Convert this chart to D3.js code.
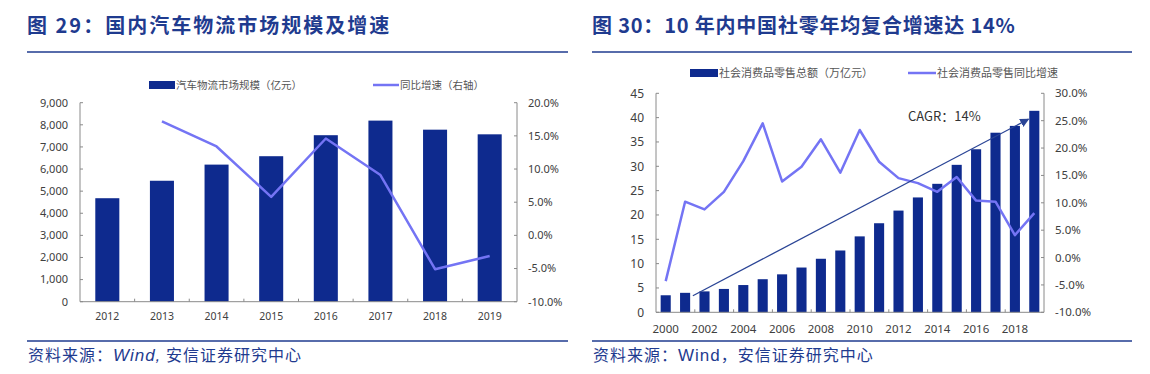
<!DOCTYPE html>
<html>
<head>
<meta charset="utf-8">
<script src="https://cdn.jsdelivr.net/npm/d3@7"></script>
<style>
  body { margin: 0; background: #fff; }
  svg text { font-family: "Noto Sans", "Noto Sans CJK SC", sans-serif; }
  .cjk { font-family: "Noto Sans CJK SC", sans-serif !important; }
</style>
</head>
<body>
<svg id="chart" width="1150" height="374"></svg>
<script>
// ---- data: figure 29 ----
var logiYears = ["2012", "2013", "2014", "2015", "2016", "2017", "2018", "2019"];
var logiScale = [4680, 5470, 6200, 6580, 7530, 8190, 7780, 7570];
var logiGrowth = [null, 17.2, 13.4, 5.8, 14.6, 9.1, -5.1, -3.1];
var logiTicksL = [0, 1000, 2000, 3000, 4000, 5000, 6000, 7000, 8000, 9000];
var logiTicksR = [-10, -5, 0, 5, 10, 15, 20];

// ---- data: figure 30 ----
var retailYears = ["2000", "2001", "2002", "2003", "2004", "2005", "2006", "2007", "2008", "2009",
                   "2010", "2011", "2012", "2013", "2014", "2015", "2016", "2017", "2018", "2019"];
var retailTotal = [3.5, 4.0, 4.3, 4.8, 5.6, 6.8, 7.8, 9.2, 11.0, 12.7,
                   15.6, 18.3, 20.9, 23.6, 26.4, 30.3, 33.5, 36.9, 38.3, 41.4];
var retailGrowth = [-4.3, 10.2, 8.8, 12.0, 17.6, 24.5, 13.9, 16.6, 21.6, 15.5,
                    23.3, 17.5, 14.5, 13.6, 12.0, 14.7, 10.4, 10.2, 4.1, 8.1];
var retailTicksL = [0, 5, 10, 15, 20, 25, 30, 35, 40, 45];
var retailTicksR = [-10, -5, 0, 5, 10, 15, 20, 25, 30];
var retailLabels = ["2000", "2002", "2004", "2006", "2008", "2010", "2012", "2014", "2016", "2018"];
// CAGR arrow ends, in (year, 万亿元)
var cagrFrom = [2001.4, 3.4];
var cagrTo = [2018.7, 39.7];

var BLUE = "#0e2a8e";
var LINE = "#7474f4";
var TITLE = "#1f3b8f";
var TXT = "#404040";
var AXIS = "#8a8a8a";

var svg = d3.select("#chart");
svg.append("rect").attr("width", 1150).attr("height", 374).attr("fill", "#fff");

function header(x0, x1, title, spacing, source, italicWind) {
  svg.append("text").attr("class", "cjk")
    .attr("x", x0).attr("y", 33)
    .attr("fill", TITLE).attr("font-size", 20).attr("font-weight", "bold")
    .attr("letter-spacing", spacing)
    .text(title);
  svg.append("line").attr("x1", x0).attr("x2", x1).attr("y1", 52).attr("y2", 52)
    .attr("stroke", TITLE).attr("stroke-width", 1.5);
  svg.append("line").attr("x1", x0).attr("x2", x1).attr("y1", 341).attr("y2", 341)
    .attr("stroke", TITLE).attr("stroke-width", 1.5);
  var t = svg.append("text").attr("class", "cjk")
    .attr("x", x0 + 1).attr("y", 361)
    .attr("fill", TITLE).attr("font-size", 16).attr("letter-spacing", 1);
  t.append("tspan").text(source[0]);
  t.append("tspan").attr("font-style", italicWind ? "italic" : "normal")
    .style("font-family", "'Liberation Sans', sans-serif")
    .attr("font-size", 17).text(source[1]);
  t.append("tspan").text(source[2]);
}

function legend(items, y, fs) {
  items.forEach(function(it) {
    if (it.type == "bar") {
      svg.append("rect").attr("x", it.x).attr("y", y - 4).attr("width", it.w).attr("height", 8)
        .attr("fill", BLUE);
    } else {
      svg.append("line").attr("x1", it.x).attr("x2", it.x + it.w).attr("y1", y).attr("y2", y)
        .attr("stroke", LINE).attr("stroke-width", 2.5);
    }
    svg.append("text").attr("class", "cjk")
      .attr("x", it.x + it.w + 1).attr("y", y).attr("dy", "0.35em")
      .attr("fill", "#555").attr("font-size", fs).text(it.label);
  });
}

function axes(x, yL, yR, ticksL, ticksR, fmtL, fmtR, fsL, fsR, tickEvery, labelY, fsX, xLabels) {
  var r = x.range(), dl = yL.range();
  var g = svg.append("g");
  g.append("line").attr("x1", r[0]).attr("x2", r[0]).attr("y1", dl[0]).attr("y2", dl[1])
    .attr("stroke", AXIS);
  g.append("line").attr("x1", r[1]).attr("x2", r[1]).attr("y1", dl[0]).attr("y2", dl[1])
    .attr("stroke", AXIS);
  g.append("line").attr("x1", r[0]).attr("x2", r[1]).attr("y1", dl[0]).attr("y2", dl[0])
    .attr("stroke", AXIS);
  ticksL.forEach(function(v) {
    g.append("line").attr("x1", r[0]).attr("x2", r[0] + 3).attr("y1", yL(v)).attr("y2", yL(v))
      .attr("stroke", AXIS);
    g.append("text").attr("x", r[0] - 12).attr("y", yL(v)).attr("dy", "0.35em")
      .attr("text-anchor", "end").attr("font-size", fsL).attr("fill", TXT).text(fmtL(v));
  });
  ticksR.forEach(function(v) {
    g.append("line").attr("x1", r[1]).attr("x2", r[1] - 3).attr("y1", yR(v)).attr("y2", yR(v))
      .attr("stroke", AXIS);
    g.append("text").attr("x", r[1] + 11).attr("y", yR(v)).attr("dy", "0.35em")
      .attr("font-size", fsR).attr("fill", TXT).text(fmtR(v));
  });
  var dom = x.domain();
  for (var k = tickEvery; k < dom.length; k += tickEvery) {
    var tx = r[0] + x.step() * k;
    g.append("line").attr("x1", tx).attr("x2", tx).attr("y1", dl[0]).attr("y2", dl[0] - 3)
      .attr("stroke", AXIS);
  }
  xLabels.forEach(function(d) {
    g.append("text").attr("x", x(d) + x.bandwidth() / 2).attr("y", labelY)
      .attr("text-anchor", "middle").attr("font-size", fsX).attr("fill", TXT).text(d);
  });
}

// ================= figure 29 =================
header(27, 568, "图 29：国内汽车物流市场规模及增速", 2, ["资料来源：", "Wind,", " 安信证券研究中心"], true);
legend([
  {type: "bar", x: 149, w: 26, label: "汽车物流市场规模（亿元）"},
  {type: "line", x: 373, w: 26, label: "同比增速（右轴）"}
], 85, 10.5);

var x1 = d3.scaleBand().domain(logiYears).range([80, 517]).paddingInner(0.56).paddingOuter(0.28);
var y1L = d3.scaleLinear().domain([0, 9000]).range([301.7, 102.7]);
var y1R = d3.scaleLinear().domain([-10, 20]).range([301.7, 102.7]);

svg.append("g").selectAll("rect").data(logiYears).enter().append("rect")
  .attr("x", function(d) { return x1(d); })
  .attr("width", x1.bandwidth())
  .attr("y", function(d, i) { return y1L(logiScale[i]); })
  .attr("height", function(d, i) { return y1L(0) - y1L(logiScale[i]); })
  .attr("fill", BLUE);

axes(x1, y1L, y1R, logiTicksL, logiTicksR, d3.format(","), function(v) { return v.toFixed(1) + "%"; },
  11, 11, 1, 320, 10.5, logiYears);

var line1 = d3.line()
  .defined(function(d) { return d[1] != null; })
  .x(function(d) { return x1(d[0]) + x1.bandwidth() / 2; })
  .y(function(d) { return y1R(d[1]); });
svg.append("path").datum(logiYears.map(function(d, i) { return [d, logiGrowth[i]]; }))
  .attr("d", line1).attr("fill", "none").attr("stroke", LINE).attr("stroke-width", 2.5)
  .attr("stroke-linejoin", "round");

// ================= figure 30 =================
header(592, 1132, "图 30：10 年内中国社零年均复合增速达 14%", 0.8, ["资料来源：", "Wind", "，安信证券研究中心"], false);
legend([
  {type: "bar", x: 690, w: 28, label: "社会消费品零售总额（万亿元）"},
  {type: "line", x: 908, w: 28, label: "社会消费品零售同比增速"}
], 73, 11);

var x2 = d3.scaleBand().domain(retailYears).range([656, 1044]).paddingInner(0.48).paddingOuter(0.24);
var y2L = d3.scaleLinear().domain([0, 45]).range([312.3, 93.3]);
var y2R = d3.scaleLinear().domain([-10, 30]).range([312.3, 93.3]);
var yearX = d3.scaleLinear().domain([1999.5, 2019.5]).range([656, 1044]);

svg.append("g").selectAll("rect").data(retailYears).enter().append("rect")
  .attr("x", function(d) { return x2(d); })
  .attr("width", x2.bandwidth())
  .attr("y", function(d, i) { return y2L(retailTotal[i]); })
  .attr("height", function(d, i) { return y2L(0) - y2L(retailTotal[i]); })
  .attr("fill", BLUE);

axes(x2, y2L, y2R, retailTicksL, retailTicksR, d3.format("d"), function(v) { return v.toFixed(1) + "%"; },
  12, 11.5, 2, 333, 11.5, retailLabels);

var line2 = d3.line()
  .x(function(d) { return x2(d[0]) + x2.bandwidth() / 2; })
  .y(function(d) { return y2R(d[1]); });
svg.append("path").datum(retailYears.map(function(d, i) { return [d, retailGrowth[i]]; }))
  .attr("d", line2).attr("fill", "none").attr("stroke", LINE).attr("stroke-width", 2.5)
  .attr("stroke-linejoin", "round");

// CAGR arrow
svg.append("defs").append("marker")
  .attr("id", "arr").attr("viewBox", "0 0 10 10").attr("refX", 9).attr("refY", 5)
  .attr("markerWidth", 7).attr("markerHeight", 7).attr("orient", "auto")
  .append("path").attr("d", "M0,0 L10,5 L0,10 z").attr("fill", "#2b4596");
svg.append("line")
  .attr("x1", yearX(cagrFrom[0])).attr("y1", y2L(cagrFrom[1]))
  .attr("x2", yearX(cagrTo[0])).attr("y2", y2L(cagrTo[1]))
  .attr("stroke", "#2b4596").attr("stroke-width", 1.3).attr("marker-end", "url(#arr)");
svg.append("text").attr("class", "cjk").attr("x", 908).attr("y", 121)
  .attr("font-size", 13).attr("fill", "#333").text("CAGR：14%");
</script>
</body>
</html>
